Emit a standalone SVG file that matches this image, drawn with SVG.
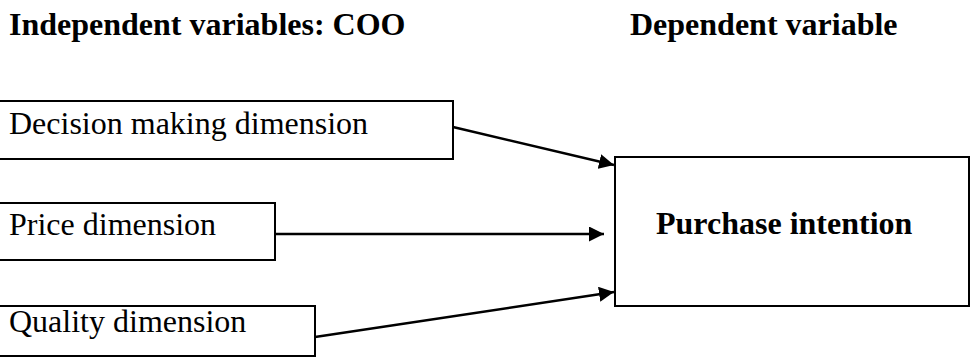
<svg xmlns="http://www.w3.org/2000/svg" width="975" height="358" viewBox="0 0 975 358">
<defs>
<style>
.box{fill:#fff;stroke:#000;stroke-width:2}
.t{font-family:"Liberation Serif","Times New Roman",serif;font-size:32px;fill:#000}
.b{font-weight:bold}
.conn{stroke:#000;stroke-width:2.5;fill:none}
</style>
<marker id="ah" markerUnits="userSpaceOnUse" markerWidth="16" markerHeight="16" refX="15" refY="7.5" orient="auto">
<polygon points="0,0 15,7.5 0,15" fill="#000"/>
</marker>
</defs>
<rect width="975" height="358" fill="#fff"/>
<text class="t b" x="9" y="35">Independent variables: COO</text>
<text class="t b" x="630" y="35">Dependent variable</text>
<g id="connectors">
<line class="conn" x1="453" y1="127" x2="614" y2="165" marker-end="url(#ah)"/>
<line class="conn" x1="275" y1="234" x2="604" y2="234" marker-end="url(#ah)"/>
<line class="conn" x1="315" y1="337" x2="614" y2="292" marker-end="url(#ah)"/>
</g>
<g id="decision">
<rect class="box" x="-2" y="101" width="455" height="58"/>
<text class="t" x="9" y="134">Decision making dimension</text>
</g>
<g id="price">
<rect class="box" x="-2" y="203" width="277" height="57"/>
<text class="t" x="9" y="235">Price dimension</text>
</g>
<g id="quality">
<rect class="box" x="-2" y="306" width="317" height="50"/>
<text class="t" x="9" y="332">Quality dimension</text>
</g>
<g id="purchase">
<rect class="box" x="615" y="157" width="354" height="149"/>
<text class="t b" x="656" y="234">Purchase intention</text>
</g>
</svg>
